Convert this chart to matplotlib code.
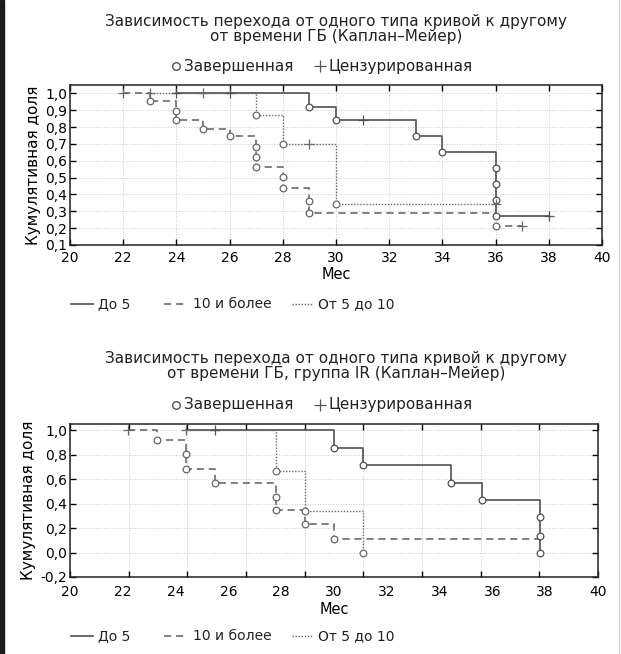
import numpy as np
import matplotlib
matplotlib.use("Agg")
import matplotlib.pyplot as plt
from matplotlib.lines import Line2D
from matplotlib.patches import Rectangle
from matplotlib.ticker import FuncFormatter

plt.rcParams['font.family'] = ['DejaVu Sans']

# ---------------- data: top chart (all patients) ----------------
title_1 = "Зависимость перехода от одного типа кривой к другому\nот времени ГБ (Каплан–Мейер)"
title_2 = "Зависимость перехода от одного типа кривой к другому\nот времени ГБ, группа IR (Каплан–Мейер)"
series_names = ["До 5", "10 и более", "От 5 до 10"]

# "До 5"
a_start, a_end = 24, 38
a_event_t = [29, 30, 33, 34, 36, 36, 36, 36]
a_event_s = [0.92, 0.845, 0.75, 0.655, 0.56, 0.465, 0.37, 0.275]
a_cens_t = [24, 26, 31, 38]
# "10 и более"
b_start, b_end = 22, 37
b_event_t = [23, 24, 24, 25, 26, 27, 27, 27, 28, 28, 29, 29, 36]
b_event_s = [0.955, 0.897, 0.845, 0.79, 0.745, 0.68, 0.625, 0.565, 0.505, 0.44, 0.36, 0.29, 0.215]
b_cens_t = [22, 37]
# "От 5 до 10"
c_start, c_end = 23, 36
c_event_t = [27, 28, 30]
c_event_s = [0.872, 0.697, 0.343]
c_cens_t = [23, 25, 29, 36]

# ---------------- data: bottom chart (IR group) ----------------
d_start, d_end = 24.4, 37.8
d_event_t = [30.0, 31.1, 34.45, 35.6, 37.8, 37.8, 37.8]
d_event_s = [0.855, 0.712, 0.57, 0.43, 0.287, 0.136, 0.0]
d_cens_t = [25.5]
e_start, e_end = 22.2, 37.8
e_event_t = [23.3, 24.4, 24.4, 25.5, 27.8, 27.8, 28.9, 30.0]
e_event_s = [0.918, 0.808, 0.685, 0.57, 0.457, 0.344, 0.229, 0.109]
e_cens_t = [22.2]
f_start, f_end = 24.4, 31.1
f_event_t = [27.8, 28.9, 31.1]
f_event_s = [0.663, 0.336, 0.0]
f_cens_t = [24.4]

x_labels = list(range(20, 41, 2))
y_ticks_1 = np.round(np.arange(0.1, 1.01, 0.1), 1)
y_ticks_2 = np.round(np.arange(-0.2, 1.01, 0.2), 1)

# ---------------- styles ----------------
W, H = 621, 654
styles = [dict(ls='-', lw=1.2, color='#505050'),
          dict(ls=(0, (4.5, 3)), lw=1.15, color='#656565'),
          dict(ls=(0, (1, 1.2)), lw=1.0, color='#6a6a6a')]


def fx(px):
    return px / W


def fy(py):
    return 1 - py / H


def km(ax, start, end, ev_t, ev_s, cens_t, st):
    xs, ys = [start], [1.0]
    cur = 1.0
    for t, s in zip(ev_t, ev_s):
        xs += [t, t]
        ys += [cur, s]
        cur = s
    xs.append(end)
    ys.append(cur)
    ax.plot(xs, ys, zorder=3, **st)
    ax.plot(ev_t, ev_s, 'o', ms=4.8, mfc='white', mec=st['color'], mew=0.9, zorder=4)
    cy = []
    for c in cens_t:
        v = 1.0
        for t, s in zip(ev_t, ev_s):
            if t < c:
                v = s
        cy.append(v)
    ax.plot(cens_t, cy, '+', ms=7, mec=st['color'], mew=0.9, zorder=4)


comma = FuncFormatter(lambda v, p: ("%.1f" % (0.0 if abs(v) < 1e-9 else v)).replace('.', ','))


def style_axes(ax, ylim, yticks):
    ax.set_xlim(20, 40)
    ax.set_ylim(*ylim)
    ax.set_yticks(yticks)
    ax.yaxis.set_major_formatter(comma)
    ax.grid(True, which='major', color='#c8c8c8', ls=':', lw=0.7)
    ax.tick_params(axis='both', which='major', direction='in', length=4, width=1,
                   top=True, right=True, labelsize=10, pad=2)
    ax.tick_params(axis='x', which='major', pad=4)
    for sp in ax.spines.values():
        sp.set_linewidth(1.1)
        sp.set_color('#222222')
    ax.set_xlabel("Мес", fontsize=10.5, labelpad=2)
    ax.set_ylabel("Кумулятивная доля", fontsize=11, labelpad=3)


fig = plt.figure(figsize=(W / 100, H / 100), dpi=100)
fig.patch.set_facecolor('white')

# top chart
ax1 = fig.add_axes([fx(70), fy(245), fx(602) - fx(70), fy(85) - fy(245)])
km(ax1, a_start, a_end, a_event_t, a_event_s, a_cens_t, styles[0])
km(ax1, b_start, b_end, b_event_t, b_event_s, b_cens_t, styles[1])
km(ax1, c_start, c_end, c_event_t, c_event_s, c_cens_t, styles[2])
style_axes(ax1, (0.1, 1.05), y_ticks_1)
ax1.set_xticks(x_labels)

# bottom chart: tick marks and grid do not line up with the printed labels
ax2 = fig.add_axes([fx(70), fy(577), fx(598) - fx(70), fy(424) - fy(577)])
km(ax2, d_start, d_end, d_event_t, d_event_s, d_cens_t, styles[0])
km(ax2, e_start, e_end, e_event_t, e_event_s, e_cens_t, styles[1])
km(ax2, f_start, f_end, f_event_t, f_event_s, f_cens_t, styles[2])
style_axes(ax2, (-0.2, 1.05), y_ticks_2)
ax2.xaxis.remove_overlapping_locs = False
ax2.set_xticks(np.linspace(20, 40, 10))
ax2.set_xticklabels([])
ax2.set_xticks(x_labels, minor=True)
ax2.set_xticklabels([str(v) for v in x_labels], minor=True)
ax2.tick_params(axis='x', which='minor', length=0, labelsize=10, pad=6)

# titles and marker keys
for title, ty, ky in [(title_1, 29, 66), (title_2, 366, 405)]:
    fig.text(fx(336), fy(ty), title, ha='center', va='center', fontsize=11,
             linespacing=1.05, color='#222222')
    fig.add_artist(Line2D([fx(176)], [fy(ky)], marker='o', ms=5.5, mfc='white',
                          mec='#555555', mew=1, transform=fig.transFigure))
    fig.text(fx(184), fy(ky), "Завершенная", ha='left', va='center', fontsize=11, color='#222222')
    fig.add_artist(Line2D([fx(320)], [fy(ky)], marker='+', ms=9, mec='#555555', mew=0.9,
                          transform=fig.transFigure))
    fig.text(fx(328), fy(ky), "Цензурированная", ha='left', va='center', fontsize=11, color='#222222')

# line keys under each chart
for ly in [304, 636]:
    for (x0, x1, tx), name, st in zip([(71, 93, 98), (164, 187, 193), (292, 313, 318)],
                                      series_names, styles):
        fig.add_artist(Line2D([fx(x0), fx(x1)], [fy(ly), fy(ly)], transform=fig.transFigure,
                              ls=st['ls'], lw=st['lw'], color=st['color']))
        fig.text(fx(tx), fy(ly), name, ha='left', va='center', fontsize=10, color='#222222')

# page edges of the scan
fig.add_artist(Rectangle((0, 0), fx(4), 1, transform=fig.transFigure, color='#1a1a1a'))
fig.add_artist(Line2D([fx(619), fx(619)], [0, 1], transform=fig.transFigure,
                      color='#cfcfcf', lw=0.8))

fig.savefig("out.png", dpi=100, facecolor='white')
